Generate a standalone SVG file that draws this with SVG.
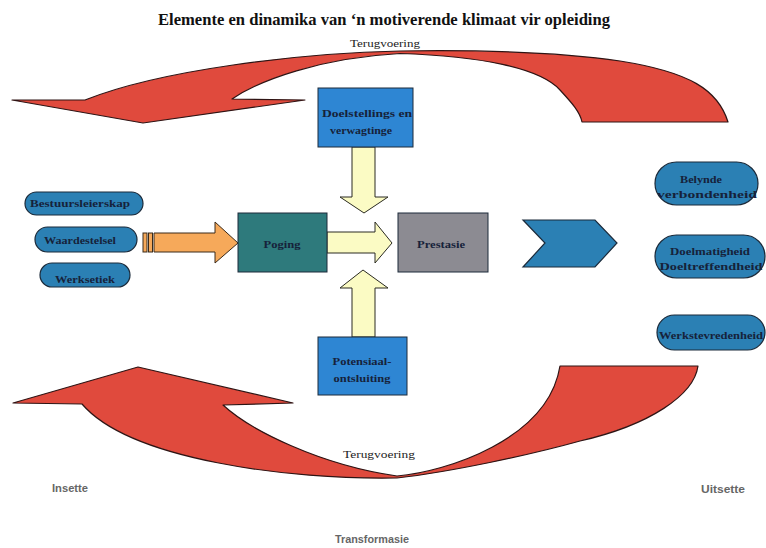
<svg xmlns="http://www.w3.org/2000/svg" width="766" height="548" viewBox="0 0 766 548">
  <style>
    .title { font-family: "Liberation Serif", "Times New Roman", serif; font-weight: bold; font-size: 17px; fill: #111; }
    .lbl { font-family: "Liberation Serif", "Times New Roman", serif; font-weight: bold; font-size: 11px; fill: #16223a; text-anchor: middle; }
    .fb { font-family: "Liberation Serif", "Times New Roman", serif; font-size: 10.5px; fill: #222; text-anchor: middle; }
    .side { font-family: "Liberation Sans Narrow", "Liberation Sans", Arial, sans-serif; font-stretch: condensed; font-weight: bold; font-size: 10.5px; fill: #666; }
    .pill { fill: #2b80b4; stroke: #1b2a3a; stroke-width: 1.2; }
    .box { stroke: #1d2b3a; stroke-width: 1; }
    .blue { fill: #2e86d3; }
    .teal { fill: #2e7a7c; }
    .grey { fill: #8c8b92; }
    .yel { fill: #fbfbc4; stroke: #2a2a22; stroke-width: 1; }
    .org { fill: #f6a95a; stroke: #3a2a1a; stroke-width: 1; }
    .red { fill: #e04a3d; stroke: #2e1414; stroke-width: 1.2; stroke-linejoin: round; }
  </style>

  <text class="title" x="384" y="25" text-anchor="middle" textLength="452" lengthAdjust="spacingAndGlyphs">Elemente  en dinamika  van ‘n  motiverende klimaat vir opleiding</text>

  <!-- feedback loops and flow arrows -->
  <g id="connectors">
    <path class="red" d="M728,122 C718,90 690,72 620,61 C560,52 470,50 400,51 C300,53 160,70 85,100 L12,100 L143,123 L305,100 L232,99 C260,80 320,58 400,53.5 C480,56 540,68 560,90 C572,103 580,112 582,122 Z"/>
    <path class="red" d="M698,366 C694,395 650,425 580,441 C530,455 450,472 397,478 C290,480 130,460 82,404 L13,403 L138,367 L293,403 L223,405 C250,430 320,465 397,476 C445,472 548,440 560,366 Z"/>
    <text class="fb" x="385" y="47" textLength="70" lengthAdjust="spacingAndGlyphs">Terugvoering</text>
    <text class="fb" x="379" y="458" textLength="72" lengthAdjust="spacingAndGlyphs">Terugvoering</text>

    <!-- orange input arrow with striped tail -->
    <rect class="org" x="143" y="233" width="4" height="19"/>
    <rect class="org" x="148.5" y="233" width="4" height="19"/>
    <polygon class="org" points="154,233 215,233 215,222 238,243 215,263 215,252 154,252"/>

    <!-- yellow block arrows into the centre -->
    <polygon class="yel" points="352,147 375,147 375,197 388,197 364,213 340,197 352,197"/>
    <polygon class="yel" points="327,232 375,232 375,222 392,243 375,263 375,253 327,253"/>
    <polygon class="yel" points="352,337 375,337 375,288 388,288 363,270 340,288 352,288"/>
  </g>

  <g id="bestuursleierskap">
    <rect class="pill" x="25" y="192" width="118" height="23" rx="11.5"/>
    <text class="lbl" x="80" y="207" textLength="100" lengthAdjust="spacingAndGlyphs">Bestuursleierskap</text>
  </g>
  <g id="waardestelsel">
    <rect class="pill" x="35" y="227" width="102" height="25" rx="12.5"/>
    <text class="lbl" x="80" y="244" textLength="72" lengthAdjust="spacingAndGlyphs">Waardestelsel</text>
  </g>
  <g id="werksetiek">
    <rect class="pill" x="40" y="263" width="90" height="24" rx="12"/>
    <text class="lbl" x="85" y="283" textLength="60" lengthAdjust="spacingAndGlyphs">Werksetiek</text>
  </g>

  <g id="doelstellings">
    <rect class="box blue" x="318" y="88" width="95" height="59"/>
    <text class="lbl" x="367" y="117" textLength="90" lengthAdjust="spacingAndGlyphs">Doelstellings en</text>
    <text class="lbl" x="361" y="134" textLength="62" lengthAdjust="spacingAndGlyphs">verwagtinge</text>
  </g>

  <g id="poging">
    <rect class="box teal" x="238" y="213" width="89" height="59"/>
    <text class="lbl" x="282" y="248" textLength="37" lengthAdjust="spacingAndGlyphs">Poging</text>
  </g>

  <g id="prestasie">
    <rect class="box grey" x="398" y="213" width="90" height="59"/>
    <text class="lbl" x="441" y="248" textLength="48" lengthAdjust="spacingAndGlyphs">Prestasie</text>
  </g>

  <g id="potensiaal">
    <rect class="box blue" x="318" y="337" width="89" height="58"/>
    <text class="lbl" x="362" y="365" textLength="59" lengthAdjust="spacingAndGlyphs">Potensiaal-</text>
    <text class="lbl" x="362" y="382" textLength="57" lengthAdjust="spacingAndGlyphs">ontsluiting</text>
  </g>

  <g id="uitset-chevron">
    <polygon class="pill" points="523,220 595,220 617,243 595,267 523,267 545,243"/>
  </g>

  <g id="belynde">
    <rect class="pill" x="655" y="162" width="103" height="43" rx="21.5"/>
    <text class="lbl" x="701" y="183" textLength="42" lengthAdjust="spacingAndGlyphs">Belynde</text>
    <text class="lbl" x="707" y="198" textLength="100" lengthAdjust="spacingAndGlyphs">verbondenheid</text>
  </g>
  <g id="doelmatigheid">
    <rect class="pill" x="655" y="235" width="110" height="43" rx="21.5"/>
    <text class="lbl" x="710" y="255" textLength="80" lengthAdjust="spacingAndGlyphs">Doelmatigheid</text>
    <text class="lbl" x="711" y="270" textLength="103" lengthAdjust="spacingAndGlyphs">Doeltreffendheid</text>
  </g>
  <g id="werkstevredenheid">
    <rect class="pill" x="657" y="315" width="108" height="35" rx="17.5"/>
    <text class="lbl" x="711" y="339" textLength="104" lengthAdjust="spacingAndGlyphs">Werkstevredenheid</text>
  </g>

  <text class="side" x="52" y="492" textLength="36" lengthAdjust="spacingAndGlyphs">Insette</text>
  <text class="side" x="701" y="493" textLength="44" lengthAdjust="spacingAndGlyphs">Uitsette</text>
  <text class="side" x="335" y="543" textLength="74" lengthAdjust="spacingAndGlyphs">Transformasie</text>
</svg>
